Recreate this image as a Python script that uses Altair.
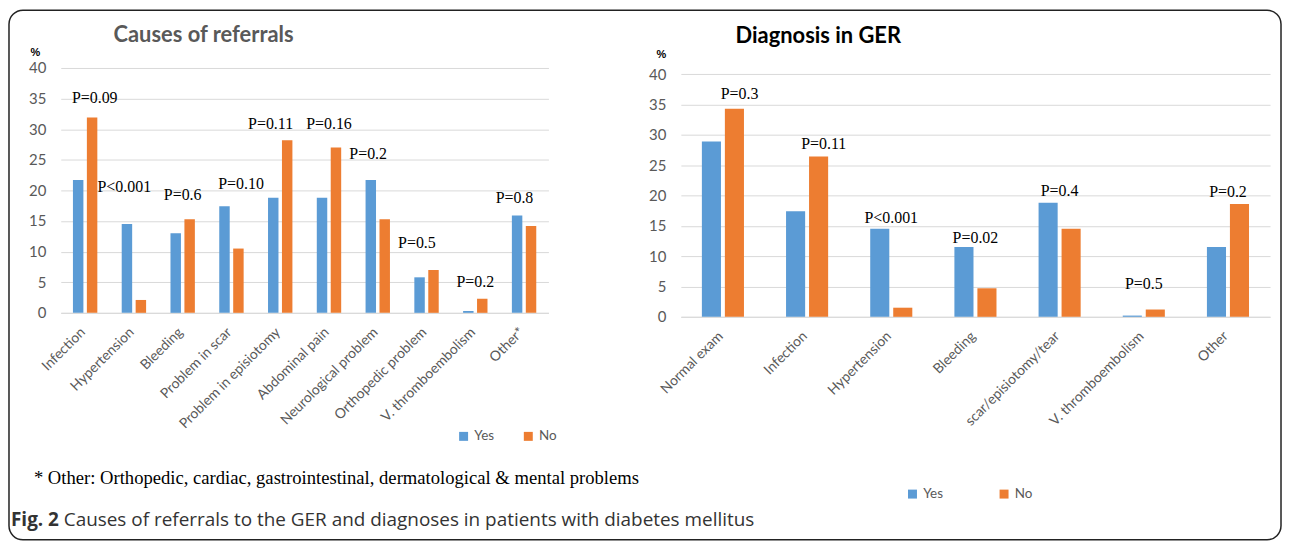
import altair as alt
import pandas as pd

series = ["Yes", "No"]
colors = ["#5B9BD5", "#ED7D31"]
y_ticks = [0, 5, 10, 15, 20, 25, 30, 35, 40]

left_cats = ["Infection", "Hypertension", "Bleeding", "Problem in scar",
             "Problem in episiotomy", "Abdominal pain", "Neurological problem",
             "Orthopedic problem", "V. thromboembolism", "Other*"]
left_yes = [21.7, 14.5, 13.0, 17.4, 18.8, 18.8, 21.7, 5.8, 0.3, 15.9]
left_no = [31.9, 2.1, 15.3, 10.5, 28.2, 27.0, 15.3, 7.0, 2.3, 14.2]
left_p = ["P=0.09", "P<0.001", "P=0.6", "P=0.10", "P=0.11", "P=0.16",
          "P=0.2", "P=0.5", "P=0.2", "P=0.8"]
left_p_height = [35.1, 20.5, 19.3, 21.1, 30.8, 30.8, 26.0, 11.4, 5.0, 18.7]
left_p_over = ["No", "Yes", "Both", "No", "Yes", "Both", "Yes", "Yes", "Both", "Yes"]

right_cats = ["Normal exam", "Infection", "Hypertension", "Bleeding",
              "scar/episiotomy/tear", "V. thromboembolism", "Other"]
right_yes = [28.9, 17.4, 14.5, 11.5, 18.8, 0.2, 11.5]
right_no = [34.3, 26.4, 1.5, 4.7, 14.5, 1.2, 18.6]
right_p = ["P=0.3", "P=0.11", "P<0.001", "P=0.02", "P=0.4", "P=0.5", "P=0.2"]
right_p_height = [36.7, 28.5, 16.2, 13.0, 20.8, 5.4, 20.5]
right_p_over = ["No", "No", "Both", "Both", "Both", "Both", "Both"]

left_title = "Causes of referrals"
right_title = "Diagnosis in GER"
footnote = "* Other: Orthopedic, cardiac, gastrointestinal, dermatological & mental problems"
caption_bold = "Fig. 2"
caption_rest = "Causes of referrals to the GER and diagnoses in patients with diabetes mellitus"

AX_GREY = "#595959"


def one_text(t):
    return alt.Chart(pd.DataFrame({"t": [t]}))


def panel(cats, yes, no, pvals, pheight, pover, width, height, ymax, bar_pad,
          lx, ly, colpad, pctx, pcty, title, tx, ty, tcolor):
    bars_df = pd.DataFrame({
        "cat": cats * 2,
        "series": ["Yes"] * len(cats) + ["No"] * len(cats),
        "value": yes + no,
    })
    lab_df = pd.DataFrame({"cat": cats, "p": pvals, "h": pheight, "over": pover})

    yscale = alt.Scale(domain=[0, ymax], nice=False)
    yaxis = alt.Axis(values=y_ticks, title="%", titleAngle=0, titleX=pctx, titleY=pcty,
                     titleAlign="left", titleBaseline="middle", titleFontSize=11,
                     titleFontWeight="bold", titleColor="#000000",
                     titleFont="Liberation Sans", labelOverlap=False, gridColor="#D9D9D9")
    xscale = alt.Scale(paddingInner=0.5, paddingOuter=0.25)
    xaxis = alt.Axis(labelAngle=-45, labelBaseline="middle", labelAlign="right",
                     labelPadding=17, labelOffset=-2)
    bars = alt.Chart(bars_df).mark_bar().encode(
        x=alt.X("cat:N", sort=cats, title=None, scale=xscale, axis=xaxis),
        xOffset=alt.XOffset("series:N",
                            scale=alt.Scale(domain=series, paddingInner=bar_pad, paddingOuter=0)),
        y=alt.Y("value:Q", scale=yscale, axis=yaxis),
        color=alt.Color("series:N", scale=alt.Scale(domain=series, range=colors),
                        legend=alt.Legend(title=None, orient="none", legendX=lx, legendY=ly,
                                          direction="horizontal", symbolType="square",
                                          symbolSize=81, symbolStrokeWidth=0,
                                          labelFont="Lato", labelFontSize=13.5,
                                          labelColor=AX_GREY, columnPadding=colpad,
                                          labelOffset=4, padding=0)),
    )
    labels = alt.Chart(lab_df).mark_text(font="Liberation Serif", fontSize=16,
                                         baseline="middle", color="#000000").encode(
        x=alt.X("cat:N", sort=cats, title=None, scale=xscale, axis=xaxis),
        xOffset=alt.XOffset("over:N", scale=alt.Scale(domain=["Yes", "Both", "No"],
                                                       paddingInner=0, paddingOuter=0.27)),
        y=alt.Y("h:Q", scale=yscale, axis=yaxis),
        text="p:N",
    )
    ttl = one_text(title).mark_text(align="left", baseline="middle", font="Lato",
                                    fontSize=22, fontWeight="bold", color=tcolor).encode(
        text="t:N", x=alt.value(tx), y=alt.value(ty))
    return alt.layer(bars, labels, ttl).resolve_scale(xOffset="independent").properties(
        width=width, height=height)


left = panel(left_cats, left_yes, left_no, left_p, left_p_height, left_p_over,
             490, 246, 40, 0.25, 398, 363, 27, -31, -16,
             left_title, 53, -33, AX_GREY)

frame = one_text("frame").mark_rect(filled=False, stroke="#222222", strokeWidth=1.5,
                                    cornerRadius=14).encode(
    x=alt.value(-52), x2=alt.value(1226), y=alt.value(-58), y2=alt.value(474))
foot = one_text(footnote).mark_text(align="left", baseline="middle",
                                    font="Liberation Serif", fontSize=18.7,
                                    color="#000000").encode(
    text="t:N", x=alt.value(-27), y=alt.value(412))
cap1 = one_text(caption_bold).mark_text(align="left", baseline="middle", font="Open Sans",
                                        fontSize=19, fontWeight="bold",
                                        color="#333333").encode(
    text="t:N", x=alt.value(-50), y=alt.value(454))
cap2 = one_text(caption_rest).mark_text(align="left", baseline="middle", font="Open Sans",
                                        fontSize=19, color="#333333").encode(
    text="t:N", x=alt.value(3), y=alt.value(454))

left_full = alt.layer(frame, left, foot, cap1, cap2)

right = panel(right_cats, right_yes, right_no, right_p, right_p_height, right_p_over,
              592, 250, 41, 0.17, 226, 421, 54, -25, -14,
              right_title, 55, -32, "#000000")

chart = alt.hconcat(left_full, right, spacing=133, bounds="flush").resolve_scale(
    color="independent").resolve_legend(color="independent").properties(
    padding=0).configure_view(stroke=None).configure_axisY(
    gridColor="#D9D9D9", domain=False, ticks=False, labelFont="Lato", labelFontSize=15,
    labelColor=AX_GREY, labelPadding=15).configure_axisX(
    domainColor="#D9D9D9", ticks=False, grid=False, labelFont="Lato",
    labelFontSize=14, labelColor=AX_GREY)

chart.save("out.html", embed_options={"renderer": "svg", "actions": False})
